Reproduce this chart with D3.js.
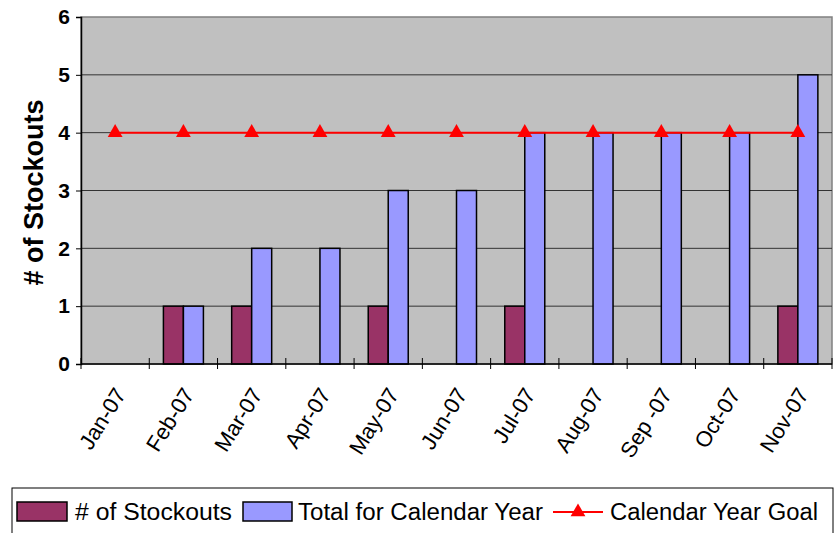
<!DOCTYPE html>
<html lang="en">
<head>
  <meta charset="UTF-8">
  <title>Stockouts</title>
  <script src="https://d3js.org/d3.v7.min.js"></script>
  <style>
    body { margin: 0; background: #fff; font-family: Arial, "Liberation Sans", sans-serif; }
    svg { display: block; }
  </style>
</head>
<body>
  <svg width="838" height="533"></svg>

  <script>
    const months = ["Jan-07", "Feb-07", "Mar-07", "Apr-07", "May-07", "Jun-07",
                    "Jul-07", "Aug-07", "Sep -07", "Oct-07", "Nov-07"];
    const stockouts = [0, 1, 1, 0, 1, 0, 1, 0, 0, 0, 1];
    const yearTotal = [0, 1, 2, 2, 3, 3, 4, 4, 4, 4, 5];
    const yearGoal = [4, 4, 4, 4, 4, 4, 4, 4, 4, 4, 4];
    const yTicks = [0, 1, 2, 3, 4, 5, 6];

    const svg = d3.select("svg");
    const pLeft = 81, pRight = 832, pTop = 17, pBottom = 364;

    const x = d3.scaleBand().domain(months).range([pLeft, pRight]);
    const inner = d3.scaleBand().domain(["s", "t"]).range([0, 40]);
    const y = d3.scaleLinear().domain([0, 6]).range([pBottom, pTop]);

    // plot background
    svg.append("rect")
      .attr("x", pLeft).attr("y", pTop)
      .attr("width", pRight - pLeft).attr("height", pBottom - pTop)
      .attr("fill", "#c0c0c0")
      .attr("stroke", "#808080").attr("stroke-width", 1.5);

    // gridlines
    svg.append("g")
      .selectAll("line")
      .data(yTicks.slice(1, -1))
      .enter().append("line")
      .attr("x1", pLeft).attr("x2", pRight)
      .attr("y1", d => y(d)).attr("y2", d => y(d))
      .attr("stroke", "#333").attr("stroke-width", 1);

    // bars
    const groups = svg.append("g")
      .selectAll("g")
      .data(months)
      .enter().append("g")
      .attr("transform", d => `translate(${x(d) + x.bandwidth() / 2 - 20},0)`);

    groups.each(function(m, i) {
      const g = d3.select(this);
      const vals = [["s", stockouts[i], "#993366"], ["t", yearTotal[i], "#9999ff"]];
      vals.forEach(([k, v, c]) => {
        if (v <= 0) return;
        g.append("rect")
          .attr("x", inner(k))
          .attr("y", y(v))
          .attr("width", inner.bandwidth())
          .attr("height", y(0) - y(v))
          .attr("fill", c)
          .attr("stroke", "#000")
          .attr("stroke-width", 1.5);
      });
    });

    // y axis
    const yAxis = svg.append("g")
      .attr("transform", `translate(${pLeft},0)`)
      .call(d3.axisLeft(y).tickValues(yTicks).tickSize(5).tickPadding(6).tickFormat(d3.format("d")));
    yAxis.select(".domain").attr("stroke", "#000").attr("stroke-width", 1.5);
    yAxis.selectAll(".tick line").attr("stroke", "#000");
    yAxis.selectAll("text")
      .attr("font-size", 21).attr("font-weight", "bold")
      .attr("font-family", "Arial, Liberation Sans, sans-serif").attr("fill", "#000");

    // x axis (ticks on category boundaries, crossing the axis)
    svg.append("line")
      .attr("x1", pLeft).attr("x2", pRight)
      .attr("y1", pBottom).attr("y2", pBottom)
      .attr("stroke", "#000").attr("stroke-width", 1.5);
    const bounds = months.map(m => x(m)).concat([pRight]);
    svg.append("g")
      .selectAll("line")
      .data(bounds)
      .enter().append("line")
      .attr("x1", d => d).attr("x2", d => d)
      .attr("y1", pBottom - 6).attr("y2", pBottom + 5)
      .attr("stroke", "#000").attr("stroke-width", 1);

    svg.append("g")
      .selectAll("text")
      .data(months)
      .enter().append("text")
      .attr("transform", d => `translate(${x(d) + x.bandwidth() / 2 + 5},${pBottom + 26}) rotate(-58)`)
      .attr("text-anchor", "end")
      .attr("dy", "0.35em")
      .attr("font-size", 22)
      .text(d => d);

    // y title
    svg.append("text")
      .attr("transform", `translate(43,${(pTop + pBottom) / 2 + 2}) rotate(-90)`)
      .attr("text-anchor", "middle")
      .attr("font-size", 27).attr("font-weight", "bold")
      .text("# of Stockouts");

    // goal line
    const goalLine = d3.line()
      .x((d, i) => x(months[i]) + x.bandwidth() / 2)
      .y(d => y(d));
    svg.append("path")
      .datum(yearGoal)
      .attr("d", goalLine)
      .attr("fill", "none")
      .attr("stroke", "#ff0000").attr("stroke-width", 2);

    const tri = d3.symbol().type(d3.symbolTriangle).size(95);
    svg.append("g")
      .selectAll("path")
      .data(yearGoal)
      .enter().append("path")
      .attr("d", tri)
      .attr("transform", (d, i) => `translate(${x(months[i]) + x.bandwidth() / 2},${y(d)})`)
      .attr("fill", "#ff0000");

    // legend
    const lg = svg.append("g");
    lg.append("rect")
      .attr("x", 12).attr("y", 488).attr("width", 821).attr("height", 50)
      .attr("fill", "#fff").attr("stroke", "#000").attr("stroke-width", 1);

    lg.append("rect").attr("x", 17).attr("y", 502).attr("width", 50).attr("height", 19)
      .attr("fill", "#993366").attr("stroke", "#000").attr("stroke-width", 1.5);
    lg.append("text").attr("x", 75).attr("y", 520).attr("font-size", 23)
      .attr("textLength", 157).attr("lengthAdjust", "spacingAndGlyphs").text("# of Stockouts");

    lg.append("rect").attr("x", 243).attr("y", 502).attr("width", 49).attr("height", 19)
      .attr("fill", "#9999ff").attr("stroke", "#000").attr("stroke-width", 1.5);
    lg.append("text").attr("x", 298).attr("y", 520).attr("font-size", 23)
      .attr("textLength", 245).attr("lengthAdjust", "spacingAndGlyphs").text("Total for Calendar Year");

    lg.append("line").attr("x1", 553).attr("x2", 603).attr("y1", 512).attr("y2", 512)
      .attr("stroke", "#ff0000").attr("stroke-width", 2);
    lg.append("path").attr("d", tri).attr("transform", "translate(578,512)").attr("fill", "#ff0000");
    lg.append("text").attr("x", 610).attr("y", 520).attr("font-size", 23)
      .attr("textLength", 208).attr("lengthAdjust", "spacingAndGlyphs").text("Calendar Year Goal");
  </script>
</body>
</html>
